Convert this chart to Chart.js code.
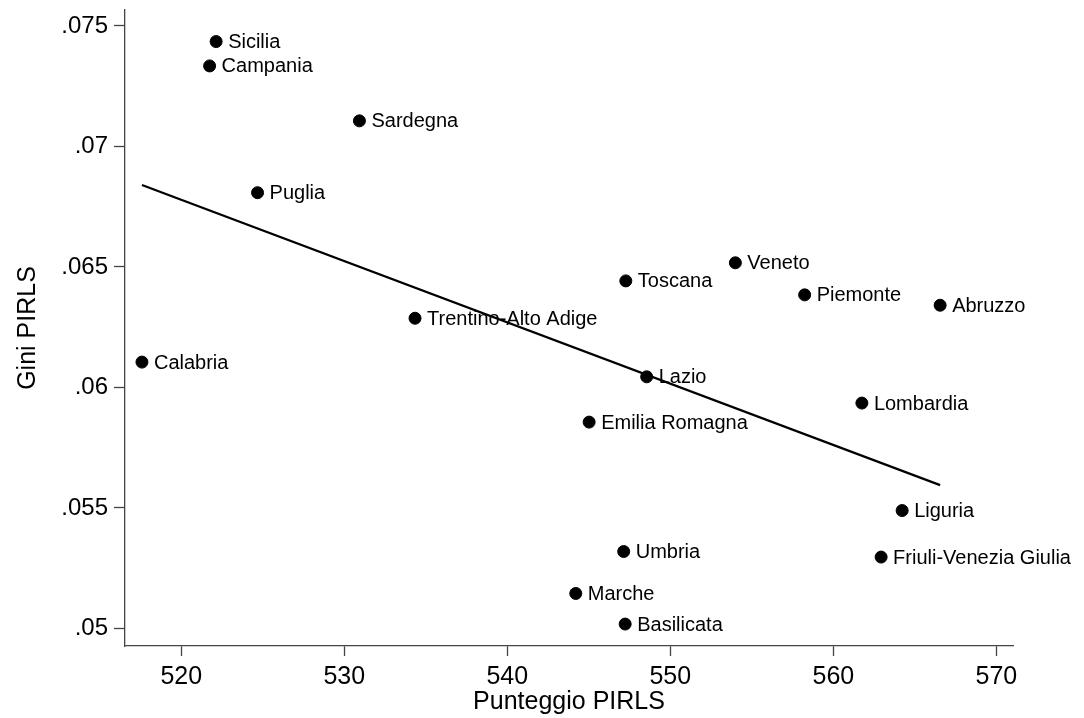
<!DOCTYPE html>
<html>
<head>
<meta charset="utf-8">
<script src="https://cdn.jsdelivr.net/npm/chart.js@4.4.1/dist/chart.umd.min.js"></script>
<style>
  html, body { margin: 0; padding: 0; background: #fff; }
  #wrap { width: 1084px; height: 718px; position: relative; }
</style>
</head>
<body>
<div id="wrap"><canvas id="gini"></canvas></div>
<script>
var regioni = ['Sicilia', 'Campania', 'Sardegna', 'Puglia', 'Calabria', 'Trentino-Alto Adige',
    'Toscana', 'Veneto', 'Piemonte', 'Abruzzo', 'Lombardia', 'Lazio', 'Emilia Romagna',
    'Liguria', 'Friuli-Venezia Giulia', 'Umbria', 'Marche', 'Basilicata'];
var punteggio = [522.14, 521.74, 530.93, 524.68, 517.59, 534.34,
    547.27, 553.99, 558.24, 566.55, 561.75, 548.55, 545.02,
    564.22, 562.93, 547.14, 544.20, 547.23];
var gini = [0.07435, 0.07334, 0.07106, 0.06808, 0.06105, 0.06287,
    0.06442, 0.06517, 0.06384, 0.06341, 0.05935, 0.06044, 0.05856,
    0.05489, 0.05296, 0.05319, 0.05145, 0.05018];
var xTicks = [520, 530, 540, 550, 560, 570];
var yTicks = [0.05, 0.055, 0.06, 0.065, 0.07, 0.075];
var yTickLabels = ['.05', '.055', '.06', '.065', '.07', '.075'];

// retta di regressione (OLS) calcolata dai dati
var n = punteggio.length, mx = 0, my = 0;
for (var i = 0; i < n; i++) { mx += punteggio[i]; my += gini[i]; }
mx /= n; my /= n;
var sxy = 0, sxx = 0;
for (var i = 0; i < n; i++) {
    sxy += (punteggio[i] - mx) * (gini[i] - my);
    sxx += (punteggio[i] - mx) * (punteggio[i] - mx);
}
var b = sxy / sxx, a = my - b * mx;
var xmin = Math.min.apply(null, punteggio), xmax = Math.max.apply(null, punteggio);
var fitLine = [{x: xmin, y: a + b * xmin}, {x: xmax, y: a + b * xmax}];

var punti = punteggio.map(function (v, i) { return {x: v, y: gini[i]}; });

var font = '"Liberation Sans", Arial, Helvetica, sans-serif';

var etichette = {
    id: 'etichette',
    afterDatasetsDraw: function (chart) {
        var ctx = chart.ctx;
        var meta = chart.getDatasetMeta(1);
        ctx.save();
        ctx.font = '20px ' + font;
        ctx.fillStyle = '#000';
        ctx.textAlign = 'left';
        ctx.textBaseline = 'middle';
        meta.data.forEach(function (p, i) {
            ctx.fillText(regioni[i], p.x + 12, p.y + 1);
        });
        ctx.restore();
    }
};

new Chart("gini", {
    type: 'scatter',
    data: {
        datasets: [{
            type: 'line',
            data: fitLine,
            borderColor: '#000',
            borderWidth: 2.2,
            pointRadius: 0,
            fill: false
        }, {
            data: punti,
            backgroundColor: '#000',
            borderColor: '#000',
            pointRadius: 6,
            pointHoverRadius: 6
        }]
    },
    options: {
        responsive: true,
        maintainAspectRatio: false,
        animation: false,
        events: [],
        layout: {
            padding: {top: 10, right: 71, left: 0, bottom: 0}
        },
        plugins: {
            legend: {display: false},
            tooltip: {enabled: false}
        },
        scales: {
            x: {
                type: 'linear',
                min: 516.55,
                max: 571.02,
                afterBuildTicks: function (s) {
                    s.ticks = xTicks.map(function (v) { return {value: v}; });
                },
                afterFit: function (s) {
                    s.height = 72;
                    s.paddingLeft = 0;
                    s.paddingRight = 0;
                },
                grid: {
                    drawOnChartArea: false,
                    tickLength: 10,
                    tickColor: '#444',
                    tickWidth: 1.3
                },
                border: {display: true, color: '#444', width: 1.3},
                ticks: {
                    color: '#000',
                    padding: 6,
                    maxRotation: 0,
                    font: {family: font, size: 25}
                },
                title: {
                    display: true,
                    text: 'Punteggio PIRLS',
                    color: '#000',
                    font: {family: font, size: 25},
                    padding: {top: 0, bottom: 1}
                }
            },
            y: {
                type: 'linear',
                min: 0.04927,
                max: 0.07566,
                afterBuildTicks: function (s) {
                    s.ticks = yTicks.map(function (v) { return {value: v}; });
                },
                afterFit: function (s) {
                    s.width = 125;
                    s.paddingTop = 0;
                    s.paddingBottom = 0;
                },
                grid: {
                    drawOnChartArea: false,
                    tickLength: 11,
                    tickColor: '#444',
                    tickWidth: 1.3
                },
                border: {display: true, color: '#444', width: 1.3},
                ticks: {
                    color: '#000',
                    padding: 6,
                    font: {family: font, size: 24},
                    callback: function (v) {
                        var k = yTicks.indexOf(v);
                        return k >= 0 ? yTickLabels[k] : '';
                    }
                },
                title: {
                    display: true,
                    text: 'Gini PIRLS',
                    color: '#000',
                    font: {family: font, size: 25},
                    padding: {top: 13, bottom: 0}
                }
            }
        }
    },
    plugins: [etichette]
});
</script>
</body>
</html>
